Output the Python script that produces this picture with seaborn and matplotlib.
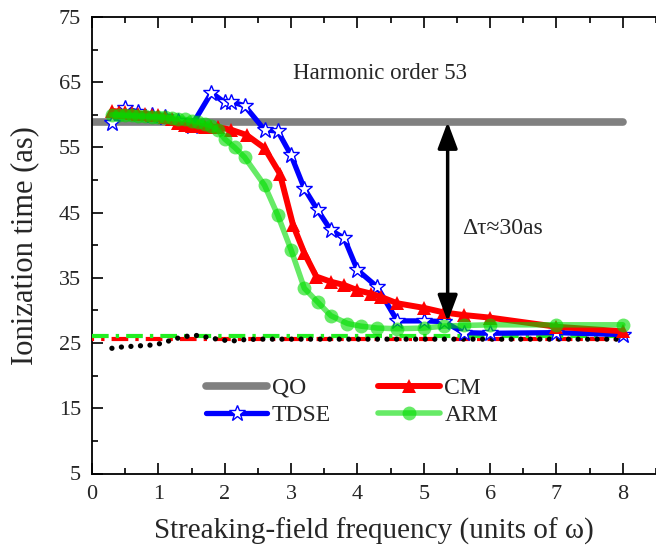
import seaborn as sns
import matplotlib.pyplot as plt
from matplotlib.ticker import MultipleLocator

# quantum orbit value (flat)
qo_x = [0.0, 8.0]
qo_y = [58.9, 58.9]

# TDSE
tdse_x = [0.3, 0.5, 0.7, 0.9, 1.1, 1.3, 1.5, 1.8, 2.0, 2.1, 2.3, 2.6, 2.8, 3.0,
          3.2, 3.4, 3.6, 3.8, 4.0, 4.3, 4.6, 5.0, 5.3, 5.6, 6.0, 7.0, 8.0]
tdse_y = [58.8, 61.0, 60.4, 60.0, 59.6, 59.0, 58.3, 63.4, 61.9, 62.0, 61.4, 57.7,
          57.5, 53.8, 48.7, 45.4, 42.3, 41.1, 36.2, 33.6, 28.4, 28.4, 28.3, 26.6,
          26.5, 26.6, 26.3]

# CM
cm_x = [0.3, 0.4, 0.5, 0.6, 0.7, 0.8, 0.9, 1.0, 1.1, 1.2, 1.3, 1.4, 1.5, 1.6,
        1.7, 1.8, 1.9, 2.1, 2.33, 2.6, 2.83, 3.03, 3.2, 3.38, 3.6, 3.8, 4.0,
        4.2, 4.35, 4.6, 5.0, 5.3, 5.6, 6.0, 7.0, 8.0]
cm_y = [60.6, 60.5, 60.4, 60.3, 60.2, 60.1, 60.0, 59.9, 59.7, 59.4, 58.8, 58.4,
        58.3, 58.3, 58.2, 58.2, 58.1, 57.7, 56.9, 54.9, 51.0, 43.1, 38.8, 35.2,
        34.4, 33.9, 33.1, 32.6, 32.1, 31.1, 30.4, 29.7, 29.3, 28.9, 27.5, 26.8]

# ARM
arm_x = [0.3, 0.4, 0.5, 0.6, 0.7, 0.8, 0.9, 1.0, 1.1, 1.2, 1.3, 1.4, 1.5, 1.6,
         1.7, 1.8, 1.9, 2.0, 2.15, 2.3, 2.6, 2.8, 3.0, 3.2, 3.4, 3.6, 3.85, 4.05,
         4.3, 4.6, 5.0, 5.3, 5.6, 6.0, 7.0, 8.0]
arm_y = [60.0, 60.0, 59.9, 59.9, 59.8, 59.8, 59.7, 59.7, 59.6, 59.5, 59.4, 59.3,
         59.1, 58.9, 58.6, 58.3, 57.6, 56.3, 55.0, 53.5, 49.2, 44.6, 39.3, 33.4,
         31.3, 29.2, 28.0, 27.6, 27.3, 27.2, 27.3, 27.6, 27.7, 27.8, 27.8, 27.8]

# field-free reference lines near the bottom
base_x = [0.0, 8.0]
base_red = [25.7, 25.7]
base_green = [26.1, 26.1]
dot_x = [0.3, 0.45, 0.6, 0.75, 0.9, 1.0, 1.15, 1.27, 1.4, 1.55, 1.68, 1.83,
         1.95, 2.1, 2.26, 2.5, 3.0, 4.0, 5.0, 6.0, 7.0, 8.0]
dot_y = [24.2, 24.4, 24.5, 24.6, 24.7, 24.85, 25.3, 25.7, 26.0, 26.2, 26.0, 25.7,
         25.5, 25.3, 25.5, 25.6, 25.6, 25.6, 25.6, 25.6, 25.6, 25.6]

sns.set_theme(style='ticks')
plt.rcParams['font.family'] = ['Liberation Serif', 'DejaVu Serif']

fig = plt.figure(figsize=(6.56, 5.58), dpi=100)
ax = fig.add_axes([92/656, 84.5/558, 564/656, 456.5/558])

green = '#00dd00'

sns.lineplot(x=qo_x, y=qo_y, ax=ax, color='#808080', lw=5.5,
             solid_capstyle='round', zorder=2)
qo_line = ax.lines[-1]

sns.lineplot(x=base_x, y=base_red, ax=ax, color='red', lw=3, zorder=3)
ax.lines[-1].set_linestyle((3.5, (4, 1.7, 0.8, 1.7)))
sns.lineplot(x=base_x, y=base_green, ax=ax, color='#22ee22', lw=3, zorder=3)
ax.lines[-1].set_linestyle((0, (4, 1.7, 0.8, 1.7)))
sns.lineplot(x=dot_x, y=dot_y, ax=ax, color='black', lw=3.8, sort=False,
             estimator=None, zorder=4)
ax.lines[-1].set_dashes((0.01, 1.8))
ax.lines[-1].set_dash_capstyle('round')

sns.lineplot(x=tdse_x, y=tdse_y, ax=ax, color='blue', lw=3.8, marker='*',
             markersize=12, markerfacecolor='white', markeredgecolor='blue',
             markeredgewidth=1, sort=False, estimator=None, zorder=5)
tdse_line = ax.lines[-1]
sns.lineplot(x=cm_x, y=cm_y, ax=ax, color='red', lw=4.3, marker='^',
             markersize=10, markeredgecolor='red', markeredgewidth=0,
             sort=False, estimator=None, zorder=6)
cm_line = ax.lines[-1]
sns.lineplot(x=arm_x, y=arm_y, ax=ax, color=green, lw=4, marker='o',
             markersize=10, markeredgewidth=0, alpha=0.6,
             sort=False, estimator=None, zorder=7)
arm_line = ax.lines[-1]

ax.annotate('', xy=(5.36, 28.3), xytext=(5.36, 58.9),
            arrowprops=dict(arrowstyle='<|-|>,head_length=0.8,head_width=0.3',
                            color='black', lw=2.5, mutation_scale=20,
                            shrinkA=0, shrinkB=0), zorder=8)
ax.text(4.34, 66.4, 'Harmonic order 53', ha='center', va='center', fontsize=16.5)
ax.text(5.58, 42.6, 'Δτ≈30as', ha='left', va='center', fontsize=17)

ax.set_xlim(0, 8.5)
ax.set_ylim(5, 75)
ax.set_xticks(range(0, 9))
ax.set_yticks(range(5, 76, 10))
ax.xaxis.set_minor_locator(MultipleLocator(0.5))
ax.yaxis.set_minor_locator(MultipleLocator(5))
ax.tick_params(which='both', direction='in', top=True, right=False,
               color='black', width=1.2)
ax.tick_params(which='major', length=8, labelsize=16, pad=8)
ax.tick_params(which='minor', length=4)
for s in ['left', 'bottom', 'top']:
    ax.spines[s].set_color('black')
    ax.spines[s].set_linewidth(1.3)
ax.spines['right'].set_visible(False)

ax.set_xlabel('Streaking-field frequency (units of ω)', fontsize=21, labelpad=10)
ax.set_ylabel('Ionization time (as)', fontsize=22, labelpad=14)

ax.legend([qo_line, tdse_line, cm_line, arm_line], ['QO', 'TDSE', 'CM', 'ARM'],
          ncol=2, loc='center', bbox_to_anchor=(0.461, 0.157), frameon=False,
          fontsize=17, handlelength=2.6, handletextpad=0.2, columnspacing=2.0,
          labelspacing=0.25, numpoints=1)

fig.savefig('out.png', dpi=100)
